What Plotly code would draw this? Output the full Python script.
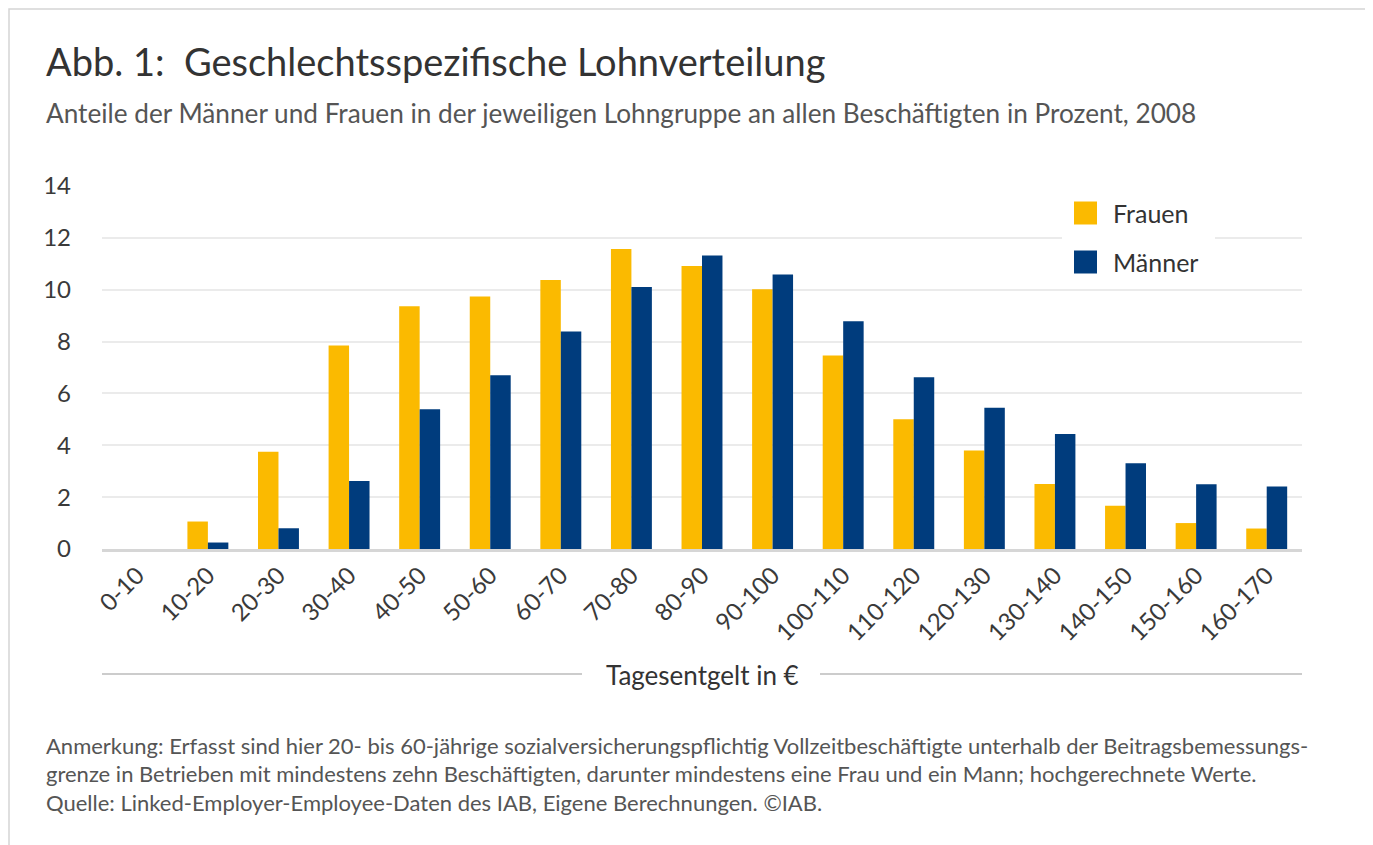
import plotly.graph_objects as go

categories = ["0-10", "10-20", "20-30", "30-40", "40-50", "50-60", "60-70", "70-80",
              "80-90", "90-100", "100-110", "110-120", "120-130", "130-140",
              "140-150", "150-160", "160-170"]
frauen = [0.0, 1.06, 3.75, 7.85, 9.36, 9.74, 10.37, 11.57, 10.91, 10.02, 7.46,
          5.0, 3.8, 2.51, 1.67, 1.0, 0.79]
maenner = [0.0, 0.25, 0.8, 2.62, 5.39, 6.7, 8.39, 10.1, 11.32, 10.59, 8.78,
           6.62, 5.45, 4.44, 3.31, 2.5, 2.41]
y_ticks = [0, 2, 4, 6, 8, 10, 12, 14]
series_names = ["Frauen", "Männer"]
series_colors = ["#fbba00", "#003c7d"]

title = "Abb. 1:  Geschlechtsspezifische Lohnverteilung"
subtitle = "Anteile der Männer und Frauen in der jeweiligen Lohngruppe an allen Beschäftigten in Prozent, 2008"
x_title = "Tagesentgelt in €"
note1 = "Anmerkung: Erfasst sind hier 20- bis 60-jährige sozialversicherungspflichtig Vollzeitbeschäftigte unterhalb der Beitragsbemessungs-"
note2 = "grenze in Betrieben mit mindestens zehn Beschäftigten, darunter mindestens eine Frau und ein Mann; hochgerechnete Werte."
note3 = "Quelle: Linked-Employer-Employee-Daten des IAB, Eigene Berechnungen. ©IAB."

FONT = "Lato"
OX, OY = 8, 8                      # page body margin offset
W, H = 1373 - OX, 845 - OY
PL, PR, PT, PB = 102, 1302, 186, 549   # plot area in screen pixels
L, R, T, B = PL - OX, 1373 - PR, PT - OY, 845 - PB
pw, ph = PR - PL, PB - PT

def px(x):
    return (x - PL) / pw

def py(y):
    return (PB - y) / ph

fig = go.Figure()
for name, vals, col in zip(series_names, [frauen, maenner], series_colors):
    fig.add_trace(go.Bar(name=name, x=categories, y=vals,
                         marker=dict(color=col, line_width=0)))

fig.update_layout(
    width=W, height=H,
    margin=dict(l=L, r=R, t=T, b=B, pad=0),
    paper_bgcolor="white", plot_bgcolor="white",
    barmode="group", bargap=0.42, bargroupgap=0,
    font=dict(family=FONT, color="#333333"),
    showlegend=False,
)
fig.update_xaxes(
    type="category", tickangle=-45, tickfont=dict(size=24, color="#3a3a3a"),
    showline=True, linecolor="#d6d6d6", linewidth=2.5, showgrid=False, ticks="",
)
fig.update_yaxes(
    range=[0, 14], tickvals=y_ticks, tickfont=dict(size=24, color="#3a3a3a"),
    showgrid=True, gridcolor="#ebebeb", gridwidth=1.5, zeroline=False,
    ticks="", ticklabelstandoff=30,
)

annotations = [
    dict(text=title, x=px(44), y=py(61), xanchor="left", yanchor="middle",
         font=dict(size=38, color="#333333", family=FONT)),
    dict(text=subtitle, x=px(44), y=py(113), xanchor="left", yanchor="middle",
         font=dict(size=26.2, color="#555555", family=FONT)),
    dict(text=x_title, x=px(702), y=py(675), xanchor="center", yanchor="middle",
         font=dict(size=26, color="#333333", family=FONT)),
    dict(text=note1, x=px(44), y=py(745), xanchor="left", yanchor="middle",
         font=dict(size=22, color="#555555", family=FONT)),
    dict(text=note2, x=px(44), y=py(773), xanchor="left", yanchor="middle",
         font=dict(size=22, color="#555555", family=FONT)),
    dict(text=note3, x=px(44), y=py(802), xanchor="left", yanchor="middle",
         font=dict(size=22, color="#555555", family=FONT)),
]
# legend (manual, to get large square swatches)
legend_y = [213, 262]
for name, yy in zip(series_names, legend_y):
    annotations.append(dict(text=name, x=px(1111), y=py(yy), xanchor="left", yanchor="middle",
                            font=dict(size=25, color="#333333", family=FONT)))
for a in annotations:
    a.update(xref="paper", yref="paper", showarrow=False)
fig.update_layout(annotations=annotations)

shapes = [
    dict(type="line", x0=px(102), x1=px(582), y0=py(674), y1=py(674),
         line=dict(color="#9a9a9a", width=1.2)),
    dict(type="line", x0=px(820), x1=px(1302), y0=py(674), y1=py(674),
         line=dict(color="#9a9a9a", width=1.2)),
    dict(type="rect", x0=px(9), x1=px(1368), y0=py(870), y1=py(9),
         line=dict(color="#d5d5d5", width=1.5), fillcolor="rgba(0,0,0,0)", layer="below"),
    dict(type="rect", x0=px(1062), x1=px(1215), y0=py(282), y1=py(193),
         line=dict(width=0), fillcolor="white", layer="above"),
]
for col, yy in zip(series_colors, legend_y):
    shapes.append(dict(type="rect", x0=px(1074), x1=px(1097), y0=py(yy + 11.5), y1=py(yy - 11.5),
                       line=dict(width=0), fillcolor=col, layer="above"))
for s in shapes:
    s.update(xref="paper", yref="paper")
fig.update_layout(shapes=shapes)

fig.write_html("out.html")
